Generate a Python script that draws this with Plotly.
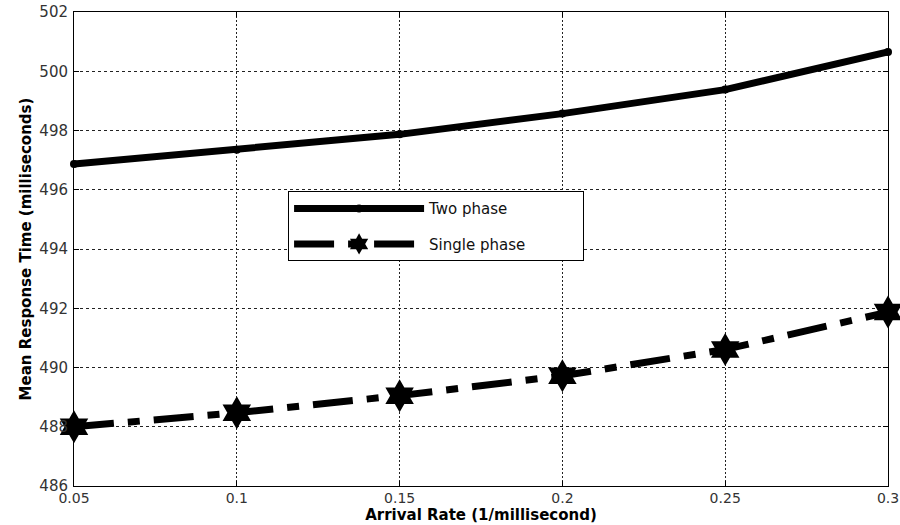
import plotly.graph_objects as go

arrival_rate = [0.05, 0.10, 0.15, 0.20, 0.25, 0.30]
two_phase = [496.87, 497.35, 497.87, 498.57, 499.38, 500.65]
single_phase = [488.00, 488.47, 489.05, 489.72, 490.61, 491.87]

x_ticks = [0.05, 0.1, 0.15, 0.2, 0.25, 0.3]
x_tick_text = ["0.05", "0.1", "0.15", "0.2", "0.25", "0.3"]
y_ticks = [486, 488, 490, 492, 494, 496, 498, 500, 502]

pad = "\u00a0" * 11

fig = go.Figure()
fig.add_trace(go.Scatter(
    x=arrival_rate, y=two_phase, name="Two phase" + pad,
    mode="lines+markers", legendgroup="a",
    line=dict(color="black", width=7),
    marker=dict(symbol="circle", size=8, color="black"),
    cliponaxis=False,
))
fig.add_trace(go.Scatter(
    x=arrival_rate, y=single_phase, name="Single phase" + pad,
    mode="lines+markers", legendgroup="b",
    line=dict(color="black", width=7, dash="40px,14px,12px,14px"),
    marker=dict(symbol="hexagram", size=25, color="black"),
    cliponaxis=False,
))

ytick_font = dict(family="DejaVu Sans, sans-serif", size=15, color="#333")
xtick_font = dict(family="DejaVu Sans, sans-serif", size=14, color="#333")
title_font = dict(family="DejaVu Sans, sans-serif", size=15, color="black")
fig.update_layout(
    width=900, height=525,
    margin=dict(l=74, r=12, t=12, b=39),
    paper_bgcolor="white", plot_bgcolor="white",
    font=dict(family="DejaVu Sans, sans-serif", size=15, color="black"),
    showlegend=True,
    legend=dict(
        x=0.263, y=0.622, xanchor="left", yanchor="top",
        bgcolor="white", bordercolor="black", borderwidth=1,
        font=dict(family="DejaVu Sans, sans-serif", size=15, color="#111"),
        itemwidth=130, tracegroupgap=13,
    ),
)
fig.update_xaxes(
    range=[0.05, 0.3], tickvals=x_ticks, ticktext=x_tick_text,
    showline=True, linecolor="black", linewidth=1, mirror="ticks",
    ticks="inside", ticklen=5, tickcolor="black",
    showgrid=True, gridcolor="#222", gridwidth=1, griddash="2px,2px",
    zeroline=False, tickfont=xtick_font, ticklabelstandoff=-1, automargin=False,
    title=dict(text="<b>Arrival Rate (1/millisecond)</b>", standoff=2, font=title_font),
)
fig.update_yaxes(
    range=[486, 502], tickvals=y_ticks,
    showline=True, linecolor="black", linewidth=1, mirror="ticks",
    ticks="inside", ticklen=5, tickcolor="black",
    showgrid=True, gridcolor="#222", gridwidth=1, griddash="3px,3px",
    zeroline=False, tickfont=ytick_font, ticklabelstandoff=2, automargin=False,
    title=dict(text="<b>Mean Response Time (milliseconds)</b>", standoff=4, font=title_font),
)

fig.write_html("out.html", config={"displayModeBar": False},
               post_script="document.body.style.margin='0';")
